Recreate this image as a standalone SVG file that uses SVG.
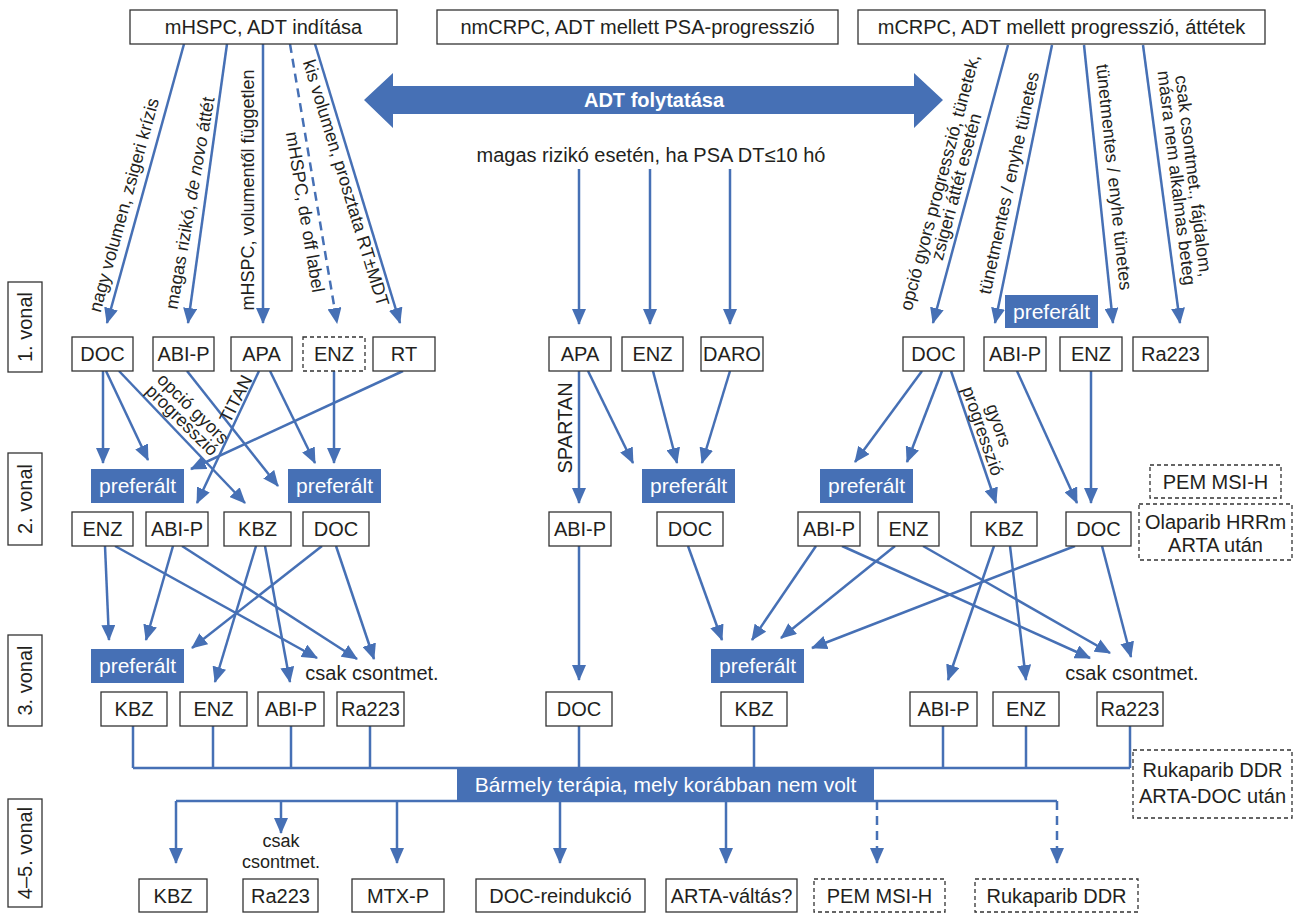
<svg xmlns="http://www.w3.org/2000/svg" width="1294" height="915" viewBox="0 0 1294 915">
<style>
.ln{stroke:#4670B5;stroke-width:2.5;fill:none}
.a{marker-end:url(#ah)}
.d{stroke-dasharray:9 6}
.box{fill:#fff;stroke:#333;stroke-width:1.3}
.dbox{fill:#fff;stroke:#333;stroke-width:1.3;stroke-dasharray:4 3}
.pref{fill:#4670B5}
.t{font-family:"Liberation Sans",Arial,sans-serif;font-size:20px;fill:#231f20;text-anchor:middle}
.s{font-size:18px}
.w{fill:#fff;font-size:21px}
.b{font-weight:bold;fill:#fff}
</style>
<defs>
<marker id="ah" viewBox="0 0 16 14" refX="15" refY="7" markerWidth="16" markerHeight="14" markerUnits="userSpaceOnUse" orient="auto"><path d="M0,0 L16,7 L0,14 z" fill="#4670B5"/></marker>
</defs>

<g id="connectors">
<line class="ln a" x1="184" y1="44" x2="107" y2="323"/>
<line class="ln a" x1="227" y1="44" x2="188" y2="323"/>
<line class="ln a" x1="263" y1="44" x2="263" y2="323"/>
<line class="ln a d" x1="290" y1="44" x2="337" y2="323"/>
<line class="ln a" x1="315" y1="44" x2="400" y2="323"/>
<line class="ln a" x1="579" y1="169" x2="579" y2="324"/>
<line class="ln a" x1="650" y1="169" x2="650" y2="324"/>
<line class="ln a" x1="730" y1="169" x2="730" y2="324"/>
<line class="ln a" x1="1008" y1="45" x2="933" y2="323"/>
<line class="ln a" x1="1052" y1="45" x2="995" y2="323"/>
<line class="ln a" x1="1084" y1="45" x2="1113" y2="323"/>
<line class="ln a" x1="1143" y1="45" x2="1180" y2="323"/>
<line class="ln a" x1="103" y1="371" x2="103" y2="463"/>
<line class="ln a" x1="106" y1="371" x2="148" y2="460"/>
<line class="ln a" x1="119" y1="371" x2="245" y2="503"/>
<line class="ln a" x1="187" y1="371" x2="278" y2="486"/>
<line class="ln a" x1="259" y1="371" x2="197" y2="503"/>
<line class="ln a" x1="270" y1="371" x2="315" y2="463"/>
<line class="ln a" x1="334" y1="371" x2="334" y2="463"/>
<line class="ln a" x1="403" y1="371" x2="191" y2="469"/>
<line class="ln a" x1="579" y1="371" x2="579" y2="503"/>
<line class="ln a" x1="588" y1="371" x2="633" y2="463"/>
<line class="ln a" x1="653" y1="371" x2="677" y2="463"/>
<line class="ln a" x1="730" y1="371" x2="702" y2="463"/>
<line class="ln a" x1="922" y1="371" x2="855" y2="462"/>
<line class="ln a" x1="942" y1="371" x2="907" y2="462"/>
<line class="ln a" x1="951" y1="371" x2="996" y2="503"/>
<line class="ln a" x1="1017" y1="371" x2="1077" y2="503"/>
<line class="ln a" x1="1091" y1="371" x2="1091" y2="503"/>
<line class="ln a" x1="105" y1="546" x2="109" y2="640"/>
<line class="ln a" x1="115" y1="546" x2="317" y2="658"/>
<line class="ln a" x1="173" y1="546" x2="146" y2="640"/>
<line class="ln a" x1="182" y1="546" x2="357" y2="659"/>
<line class="ln a" x1="256" y1="546" x2="215" y2="682"/>
<line class="ln a" x1="265" y1="546" x2="290" y2="682"/>
<line class="ln a" x1="322" y1="546" x2="192" y2="648"/>
<line class="ln a" x1="336" y1="546" x2="374" y2="659"/>
<line class="ln a" x1="579" y1="546" x2="579" y2="680"/>
<line class="ln a" x1="688" y1="546" x2="722" y2="640"/>
<line class="ln a" x1="816" y1="546" x2="752" y2="640"/>
<line class="ln a" x1="842" y1="546" x2="1090" y2="658"/>
<line class="ln a" x1="895" y1="546" x2="781" y2="638"/>
<line class="ln a" x1="923" y1="546" x2="1110" y2="653"/>
<line class="ln a" x1="994" y1="546" x2="948" y2="680"/>
<line class="ln a" x1="1010" y1="546" x2="1026" y2="680"/>
<line class="ln a" x1="1075" y1="546" x2="812" y2="648"/>
<line class="ln a" x1="1102" y1="546" x2="1131" y2="657"/>
<path class="ln" d="M133,726 V768 M213,726 V768 M291,726 V768 M370,726 V768 M579,726 V768 M754,726 V768 M943,726 V768 M1026,726 V768 M1130,726 V768 M133,768 H1130"/>
<path class="ln" d="M176,801 H1057"/>
<line class="ln a" x1="176" y1="801" x2="176" y2="863"/>
<line class="ln a" x1="281" y1="801" x2="281" y2="833"/>
<line class="ln a" x1="397" y1="801" x2="397" y2="863"/>
<line class="ln a" x1="560" y1="801" x2="560" y2="863"/>
<line class="ln a" x1="726" y1="801" x2="726" y2="863"/>
<line class="ln a d" x1="877" y1="801" x2="877" y2="863"/>
<line class="ln a d" x1="1057" y1="801" x2="1057" y2="863"/>
</g>

<g id="edge-labels">
<text class="t s" transform="translate(124,205) rotate(-74.6)" y="6">nagy volumen, zsigeri krízis</text>
<text class="t s" transform="translate(190,203) rotate(-80)" y="6">magas rizikó, <tspan font-style="italic">de novo</tspan> áttét</text>
<text class="t s" transform="translate(248,190) rotate(-90)" y="6">mHSPC, volumentől független</text>
<text class="t s" transform="translate(305,212) rotate(80.5)" y="6">mHSPC, de off label</text>
<text class="t s" transform="translate(346,183) rotate(73)" y="6">kis volumen, prosztata RT±MDT</text>
<g transform="translate(948,184.5) rotate(-75)">
<text class="t s" y="-2.5">opció gyors progresszió, tünetek,</text>
<text class="t s" y="14.5">zsigeri áttét esetén</text>
</g>
<text class="t s" transform="translate(1009,183) rotate(-77.6)" y="6">tünetmentes / enyhe tünetes</text>
<text class="t s" transform="translate(1114,177) rotate(84)" y="6">tünetmentes / enyhe tünetes</text>
<g transform="translate(1185,177) rotate(83)">
<text class="t s" y="-2.5">csak csontmet., fájdalom,</text>
<text class="t s" y="14.5">másra nem alkalmas beteg</text>
</g>
<text class="t" x="651" y="162" font-size="20.5">magas rizikó esetén, ha PSA DT≤10 hó</text>
<g transform="translate(187.5,414.5) rotate(44.5)">
<text class="t s" y="-2">opció gyors</text>
<text class="t s" y="14">progresszió</text>
</g>
<text class="t s" transform="translate(236,399) rotate(-63)" y="6">TITAN</text>
<text class="t" transform="translate(565,428) rotate(-90)" y="7" font-size="19">SPARTAN</text>
<g transform="translate(991,428) rotate(71)">
<text class="t s" y="-2">gyors</text>
<text class="t s" y="15">progresszió</text>
</g>
<text class="t s" x="281" y="847">csak</text>
<text class="t s" x="281" y="868">csontmet.</text>
<text class="t" x="372" y="680" font-size="21">csak csontmet.</text>
<text class="t" x="1132" y="680" font-size="21">csak csontmet.</text>
</g>

<g id="adt-arrow">
<path class="pref" d="M364,100 L393,73 L393,86 L914,86 L914,73 L943,100 L914,128 L914,114 L393,114 L393,128 z"/>
<text class="t b" x="654" y="107">ADT folytatása</text>
</g>

<g id="headers">
<g id="h-mhspc"><rect class="box" x="130" y="10" width="267" height="34"/><text class="t" x="263.5" y="34">mHSPC, ADT indítása</text></g>
<g id="h-nmcrpc"><rect class="box" x="437" y="10" width="401" height="34"/><text class="t" x="637.5" y="34">nmCRPC, ADT mellett PSA-progresszió</text></g>
<g id="h-mcrpc"><rect class="box" x="858" y="10" width="407" height="34"/><text class="t" x="1061.5" y="34">mCRPC, ADT mellett progresszió, áttétek</text></g>
</g>

<g id="vonal-labels">
<g id="v1"><rect class="box" x="8" y="282" width="34" height="90"/><text class="t" transform="translate(25,327) rotate(-90)" y="7">1. vonal</text></g>
<g id="v2"><rect class="box" x="8" y="453" width="34" height="92"/><text class="t" transform="translate(25,499) rotate(-90)" y="7">2. vonal</text></g>
<g id="v3"><rect class="box" x="8" y="635" width="34" height="91"/><text class="t" transform="translate(25,680.5) rotate(-90)" y="7">3. vonal</text></g>
<g id="v45"><rect class="box" x="8" y="799" width="34" height="108"/><text class="t" transform="translate(25,853) rotate(-90)" y="7">4–5. vonal</text></g>
</g>

<g id="level1">
<g id="l1-doc"><rect class="box" x="72" y="337" width="61" height="34"/><text class="t" x="102.5" y="361">DOC</text></g>
<g id="l1-abip"><rect class="box" x="153" y="337" width="61" height="34"/><text class="t" x="183.5" y="361">ABI-P</text></g>
<g id="l1-apa"><rect class="box" x="231" y="337" width="61" height="34"/><text class="t" x="261.5" y="361">APA</text></g>
<g id="l1-enz"><rect class="dbox" x="303" y="337" width="62" height="34"/><text class="t" x="334" y="361">ENZ</text></g>
<g id="l1-rt"><rect class="box" x="373" y="337" width="62" height="34"/><text class="t" x="404" y="361">RT</text></g>
<g id="l1-apa2"><rect class="box" x="549" y="337" width="62" height="34"/><text class="t" x="580" y="361">APA</text></g>
<g id="l1-enz2"><rect class="box" x="622" y="337" width="61" height="34"/><text class="t" x="652.5" y="361">ENZ</text></g>
<g id="l1-daro"><rect class="box" x="701" y="337" width="62" height="34"/><text class="t" x="732" y="361">DARO</text></g>
<g id="l1-doc3"><rect class="box" x="903" y="337" width="61" height="34"/><text class="t" x="933.5" y="361">DOC</text></g>
<g id="l1-abip3"><rect class="box" x="984" y="337" width="62" height="34"/><text class="t" x="1015" y="361">ABI-P</text></g>
<g id="l1-enz3"><rect class="box" x="1060" y="337" width="62" height="34"/><text class="t" x="1091" y="361">ENZ</text></g>
<g id="l1-ra"><rect class="box" x="1133" y="337" width="75" height="34"/><text class="t" x="1170.5" y="361">Ra223</text></g>
<g id="l1-pref"><rect class="pref" x="1005" y="295" width="93" height="33"/><text class="t w" x="1051.5" y="319">preferált</text></g>
</g>

<g id="level2">
<g id="l2-pref1"><rect class="pref" x="91" y="469" width="93" height="34"/><text class="t w" x="137.5" y="493">preferált</text></g>
<g id="l2-pref2"><rect class="pref" x="288" y="469" width="93" height="34"/><text class="t w" x="334.5" y="493">preferált</text></g>
<g id="l2-pref3"><rect class="pref" x="642" y="469" width="93" height="34"/><text class="t w" x="688.5" y="493">preferált</text></g>
<g id="l2-pref4"><rect class="pref" x="820" y="469" width="93" height="34"/><text class="t w" x="866.5" y="493">preferált</text></g>
<g id="l2-enz"><rect class="box" x="72" y="512" width="61" height="34"/><text class="t" x="102.5" y="536">ENZ</text></g>
<g id="l2-abip"><rect class="box" x="146" y="512" width="62" height="34"/><text class="t" x="177" y="536">ABI-P</text></g>
<g id="l2-kbz"><rect class="box" x="224" y="512" width="67" height="34"/><text class="t" x="257.5" y="536">KBZ</text></g>
<g id="l2-doc"><rect class="box" x="303" y="512" width="66" height="34"/><text class="t" x="336" y="536">DOC</text></g>
<g id="l2-abip2"><rect class="box" x="549" y="512" width="62" height="34"/><text class="t" x="580" y="536">ABI-P</text></g>
<g id="l2-doc2"><rect class="box" x="657" y="512" width="66" height="34"/><text class="t" x="690" y="536">DOC</text></g>
<g id="l2-abip3"><rect class="box" x="798" y="512" width="62" height="34"/><text class="t" x="829" y="536">ABI-P</text></g>
<g id="l2-enz3"><rect class="box" x="878" y="512" width="61" height="34"/><text class="t" x="908.5" y="536">ENZ</text></g>
<g id="l2-kbz3"><rect class="box" x="971" y="512" width="66" height="34"/><text class="t" x="1004" y="536">KBZ</text></g>
<g id="l2-doc3"><rect class="box" x="1066" y="512" width="65" height="34"/><text class="t" x="1098.5" y="536">DOC</text></g>
<g id="l2-pem"><rect class="dbox" x="1150" y="465" width="131" height="33"/><text class="t" x="1215.5" y="489">PEM MSI-H</text></g>
<g id="l2-ola"><rect class="dbox" x="1139" y="504" width="153" height="56"/><text class="t" x="1215.5" y="529">Olaparib HRRm</text><text class="t" x="1215.5" y="552">ARTA után</text></g>
</g>

<g id="level3">
<g id="l3-pref1"><rect class="pref" x="91" y="649" width="93" height="34"/><text class="t w" x="137.5" y="673">preferált</text></g>
<g id="l3-pref2"><rect class="pref" x="711" y="649" width="93" height="34"/><text class="t w" x="757.5" y="673">preferált</text></g>
<g id="l3-kbz"><rect class="box" x="101" y="692" width="66" height="34"/><text class="t" x="134" y="716">KBZ</text></g>
<g id="l3-enz"><rect class="box" x="180" y="692" width="67" height="34"/><text class="t" x="213.5" y="716">ENZ</text></g>
<g id="l3-abip"><rect class="box" x="258" y="692" width="66" height="34"/><text class="t" x="291" y="716">ABI-P</text></g>
<g id="l3-ra"><rect class="box" x="337" y="692" width="67" height="34"/><text class="t" x="370.5" y="716">Ra223</text></g>
<g id="l3-doc"><rect class="box" x="546" y="692" width="66" height="34"/><text class="t" x="579" y="716">DOC</text></g>
<g id="l3-kbz2"><rect class="box" x="721" y="692" width="66" height="34"/><text class="t" x="754" y="716">KBZ</text></g>
<g id="l3-abip3"><rect class="box" x="910" y="692" width="67" height="34"/><text class="t" x="943.5" y="716">ABI-P</text></g>
<g id="l3-enz3"><rect class="box" x="993" y="692" width="66" height="34"/><text class="t" x="1026" y="716">ENZ</text></g>
<g id="l3-ra3"><rect class="box" x="1097" y="692" width="66" height="34"/><text class="t" x="1130" y="716">Ra223</text></g>
<g id="l3-ruka"><rect class="dbox" x="1133" y="750" width="159" height="68"/><text class="t" x="1212.5" y="777">Rukaparib DDR</text><text class="t" x="1212.5" y="803">ARTA-DOC után</text></g>
</g>

<g id="any-therapy"><rect class="pref" x="457" y="768" width="417" height="34"/><text class="t w" x="665.5" y="792">Bármely terápia, mely korábban nem volt</text></g>

<g id="level45">
<g id="l4-kbz"><rect class="box" x="139" y="879" width="68" height="33"/><text class="t" x="173" y="903">KBZ</text></g>
<g id="l4-ra"><rect class="box" x="243" y="879" width="75" height="33"/><text class="t" x="280.5" y="903">Ra223</text></g>
<g id="l4-mtx"><rect class="box" x="352" y="879" width="92" height="33"/><text class="t" x="398" y="903">MTX-P</text></g>
<g id="l4-doc"><rect class="box" x="476" y="879" width="169" height="33"/><text class="t" x="560.5" y="903">DOC-reindukció</text></g>
<g id="l4-arta"><rect class="box" x="666" y="879" width="131" height="33"/><text class="t" x="731.5" y="903">ARTA-váltás?</text></g>
<g id="l4-pem"><rect class="dbox" x="814" y="879" width="131" height="33"/><text class="t" x="879.5" y="903">PEM MSI-H</text></g>
<g id="l4-ruka"><rect class="dbox" x="975" y="879" width="163" height="33"/><text class="t" x="1056.5" y="903">Rukaparib DDR</text></g>
</g>
</svg>
